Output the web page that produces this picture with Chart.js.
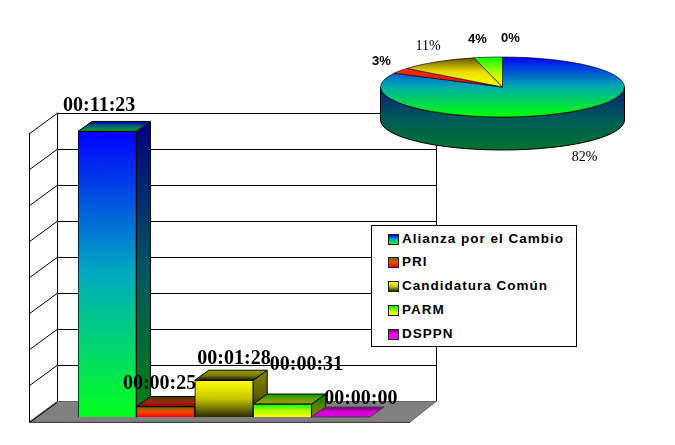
<!DOCTYPE html>
<html>
<head>
<meta charset="utf-8">
<script src="https://cdn.jsdelivr.net/npm/chart.js@4"></script>
<style>
html,body{margin:0;padding:0;background:#fff;width:675px;height:445px;overflow:hidden}
canvas{position:absolute;left:0;top:0}
#legend{position:absolute;left:371px;top:225px;width:204px;height:120px;background:#fff;border:1px solid #000;
 font:bold 13.5px "Liberation Sans",Arial,sans-serif;letter-spacing:1px;color:#000}
#legend div{position:absolute;left:30px;white-space:nowrap;line-height:16px}
#legend i{position:absolute;left:-14px;top:3px;width:9px;height:9px;border:1px solid #222}
</style>
</head>
<body>
<canvas id="bars" width="675" height="445"></canvas>
<canvas id="pie" width="675" height="445"></canvas>
<div id="legend"></div>
<script>
const categories = ["Alianza por el Cambio", "PRI", "Candidatura Común", "PARM", "DSPPN"];
const seconds = [683, 25, 88, 31, 0];
const timeLabels = ["00:11:23", "00:00:25", "00:01:28", "00:00:31", "00:00:00"];
const pieLabels = ["82%", "3%", "11%", "4%", "0%"];
const gradTop = [[0,0,255],[105,105,0],[255,255,0],[0,255,0],[128,0,128]];
const gradBottom = [[0,255,30],[255,0,0],[40,40,0],[255,255,0],[255,0,255]];
const pieTop = [[0,0,255],[255,60,0],[90,75,0],[0,255,0],[255,0,255]];
const pieBottom = [[0,255,0],[255,0,0],[255,255,0],[255,255,0],[255,0,255]];

const rgb = (c, f = 1) => `rgb(${c.map(v => Math.min(255, Math.round(v * f))).join(",")})`;
const midOf = (a, b, f = 1) => a.map((v, i) => Math.min(255, (v + b[i]) / 2 * 1.35) * f);
const grad = (ctx, y0, y1, a, b, f = 1) => {
  const g = ctx.createLinearGradient(0, y0, 0, Math.max(y1, y0 + 1));
  g.addColorStop(0, rgb(a, f));
  g.addColorStop(0.5, rgb(midOf(a, b, f)));
  g.addColorStop(1, rgb(b, f));
  return g;
};
const poly = (ctx, pts, fill, stroke) => {
  ctx.beginPath();
  pts.forEach((p, i) => i ? ctx.lineTo(p[0], p[1]) : ctx.moveTo(p[0], p[1]));
  ctx.closePath();
  if (fill) { ctx.fillStyle = fill; ctx.fill(); }
  if (stroke) { ctx.strokeStyle = stroke; ctx.lineWidth = 1; ctx.stroke(); }
};

const depth = { dx: 14, dy: 10 };
const wall = { left: 29, back: 57, right: 436, floorRight: 410, backShift: -15.5, frontShift: 5 };
const labelShift = [[-8, -26], [-6, -23], [10, -21], [24, -39], [20, -18]];

const scene3d = {
  id: "scene3d",
  beforeDatasetsDraw(chart) {
    const ctx = chart.ctx, y = chart.scales.y;
    const zero = y.getPixelForValue(0), top = y.getPixelForValue(y.max);
    const bb = zero + wall.backShift, bf = zero + wall.frontShift;
    const tb = top + wall.backShift, tf = top + wall.frontShift;
    ctx.save();
    poly(ctx, [[wall.left, bf], [wall.back, bb], [wall.right, bb], [wall.floorRight, bf]], "#808080", "#666");
    ctx.strokeStyle = "#000"; ctx.lineWidth = 1;
    ctx.beginPath();
    y.ticks.forEach(t => {
      const p = Math.round(y.getPixelForValue(t.value) + wall.backShift) + 0.5;
      const q = p - wall.backShift + wall.frontShift;
      if (t.value > 0) { ctx.moveTo(wall.right + 0.5, p); ctx.lineTo(wall.back, p); }
      ctx.moveTo(wall.back, p); ctx.lineTo(wall.left, q);
    });
    ctx.moveTo(wall.back + 0.5, tb); ctx.lineTo(wall.back + 0.5, bb);
    ctx.moveTo(wall.left + 0.5, tf); ctx.lineTo(wall.left + 0.5, bf);
    ctx.moveTo(wall.right + 0.5, tb); ctx.lineTo(wall.right + 0.5, bb);
    ctx.stroke();
    ctx.strokeStyle = "#444";
    ctx.beginPath(); ctx.moveTo(wall.left, bf + 0.5); ctx.lineTo(wall.floorRight, bf + 0.5); ctx.stroke();

    chart.getDatasetMeta(0).data.forEach((bar, i) => {
      const x0 = bar.x - bar.width / 2, x1 = bar.x + bar.width / 2, yt = bar.y, yb = bar.base;
      const { dx, dy } = depth;
      const a = gradTop[i], b = gradBottom[i];
      if (yb - yt > 0.5) {
        poly(ctx, [[x1, yt], [x1 + dx, yt - dy], [x1 + dx, yb - dy], [x1, yb]],
          grad(ctx, yt - dy, yb, a, b, 0.5), "#000");
        poly(ctx, [[x0, yt], [x0 + dx, yt - dy], [x1 + dx, yt - dy], [x1, yt]],
          grad(ctx, yt - dy, yt, a, b, 0.62), "#000");
      } else {
        poly(ctx, [[x0, yt], [x0 + dx, yt - dy], [x1 + dx, yt - dy], [x1, yt]],
          grad(ctx, yt - dy, yt, a, b, 0.85), "#444");
      }
    });
    ctx.restore();
  },
  afterDatasetsDraw(chart) {
    const ctx = chart.ctx;
    ctx.save();
    ctx.font = 'bold 20px "Liberation Serif", serif';
    ctx.textAlign = "center"; ctx.textBaseline = "middle"; ctx.fillStyle = "#000";
    chart.getDatasetMeta(0).data.forEach((bar, i) => {
      ctx.fillText(timeLabels[i], bar.x + labelShift[i][0], bar.y + labelShift[i][1]);
    });
    ctx.restore();
  }
};

new Chart(document.getElementById("bars"), {
  type: "bar",
  data: {
    labels: categories,
    datasets: [{
      label: "Tiempo",
      data: seconds,
      barPercentage: 1,
      categoryPercentage: 1,
      borderColor: "#000",
      borderWidth: c => seconds[c.dataIndex] > 0 ? 1 : 0,
      backgroundColor: c => {
        const chart = c.chart, y = chart.scales.y;
        if (!y || !chart.chartArea) return "#000";
        const i = c.dataIndex;
        return grad(chart.ctx, y.getPixelForValue(seconds[i]), y.getPixelForValue(0), gradTop[i], gradBottom[i]);
      }
    }]
  },
  options: {
    responsive: false,
    animation: false,
    layout: { padding: { left: 78, right: 305, top: 128, bottom: 28 } },
    plugins: { legend: { display: false }, tooltip: { enabled: false } },
    scales: {
      x: { display: false, grid: { display: false } },
      y: { display: false, min: 0, max: 691.2, ticks: { stepSize: 86.4 } }
    }
  },
  plugins: [scene3d]
});

const pieView = { cy: 87, ry: 30, depth: 33 };
const pieLabelPos = [
  [584.5, 157, 'normal 14px "Liberation Serif", serif'],
  [381.5, 61, 'bold 13px "Liberation Sans", sans-serif'],
  [428, 46, 'normal 14px "Liberation Serif", serif'],
  [477.5, 39, 'bold 13px "Liberation Sans", sans-serif'],
  [510.5, 38, 'bold 13px "Liberation Sans", sans-serif']
];

const pie3d = {
  id: "pie3d",
  beforeDatasetsDraw(chart) {
    const ctx = chart.ctx, arc = chart.getDatasetMeta(0).data[0];
    const cx = arc.x, r = arc.outerRadius, k = pieView.ry / r, cy = pieView.cy, d = pieView.depth;
    ctx.save();
    ctx.beginPath();
    ctx.ellipse(cx, cy, r, pieView.ry, 0, Math.PI, 0, true);
    ctx.lineTo(cx + r, cy + d);
    ctx.ellipse(cx, cy + d, r, pieView.ry, 0, 0, Math.PI, false);
    ctx.closePath();
    const g = ctx.createLinearGradient(0, cy, 0, cy + d + pieView.ry);
    g.addColorStop(0, "rgb(0,30,120)"); g.addColorStop(0.55, "rgb(0,95,85)"); g.addColorStop(1, "rgb(0,115,45)");
    ctx.fillStyle = g; ctx.fill();
    ctx.strokeStyle = "#000"; ctx.lineWidth = 1; ctx.stroke();
    ctx.restore();
    ctx.save();
    ctx.translate(0, cy); ctx.scale(1, k); ctx.translate(0, -arc.y);
  },
  afterDatasetsDraw(chart) {
    const ctx = chart.ctx;
    ctx.restore();
    ctx.save();
    ctx.textAlign = "center"; ctx.textBaseline = "middle"; ctx.fillStyle = "#000";
    pieLabels.forEach((t, i) => {
      ctx.font = pieLabelPos[i][2];
      ctx.fillText(t, pieLabelPos[i][0], pieLabelPos[i][1]);
    });
    ctx.restore();
  }
};

new Chart(document.getElementById("pie"), {
  type: "pie",
  data: {
    labels: categories,
    datasets: [{
      data: seconds,
      borderColor: "#000",
      borderWidth: 1,
      backgroundColor: c => {
        const chart = c.chart, a = chart.chartArea;
        if (!a) return "#000";
        const i = c.dataIndex, cy = (a.top + a.bottom) / 2, r = (a.bottom - a.top) / 2;
        return grad(chart.ctx, cy - r, i === 0 ? cy + r : cy, pieTop[i], pieBottom[i]);
      }
    }]
  },
  options: {
    responsive: false,
    animation: false,
    layout: { padding: { left: 380, right: 50, top: 100, bottom: 100 } },
    plugins: { legend: { display: false }, tooltip: { enabled: false } }
  },
  plugins: [pie3d]
});

const legendRows = [5, 28, 52, 76, 100];
const legendBox = document.getElementById("legend");
categories.forEach((name, i) => {
  const row = document.createElement("div");
  row.style.top = legendRows[i] + "px";
  row.textContent = name;
  const sw = document.createElement("i");
  sw.style.background = `linear-gradient(${rgb(gradTop[i])},${rgb(midOf(gradTop[i], gradBottom[i]))},${rgb(gradBottom[i])})`;
  row.appendChild(sw);
  legendBox.appendChild(row);
});
</script>
</body>
</html>
